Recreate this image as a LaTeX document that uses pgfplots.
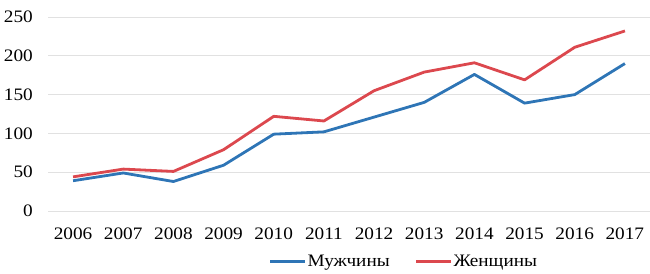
\documentclass[border=0pt]{standalone}
\usepackage{fontspec}
\setmainfont{Liberation Serif}[FakeStretch=1.1]
\usepackage{pgfplots}
\pgfplotsset{compat=1.18}
\definecolor{mblue}{RGB}{46,117,182}
\definecolor{wred}{RGB}{220,72,78}
\definecolor{gridc}{RGB}{225,225,225}
\begin{document}
\begin{tikzpicture}
\begin{axis}[
  scale only axis,
  width=602bp, height=194bp,
  xmin=2005.5, xmax=2017.5,
  ymin=0, ymax=250,
  xtick={2006,...,2017},
  ytick={0,50,...,250},
  axis line style={draw=none},
  major tick length=0pt,
  ymajorgrids,
  grid style={gridc, line width=0.9bp},
  font=\fontsize{17.5bp}{20bp}\selectfont,
  /pgf/number format/assume math mode=true,
  xticklabel={\pgfmathprintnumber[1000 sep={}]{\tick}},
  xticklabel style={anchor=north, inner sep=0pt, yshift=-17bp},
  yticklabel style={anchor=east, inner sep=0pt, xshift=-15bp},
  legend columns=2,
  legend style={draw=none, fill=none, at={(0.5905,-0.26)}, anchor=center,
    font=\fontsize{17.5bp}{20bp}\selectfont,
    nodes={inner xsep=1bp},
    /tikz/every even column/.append style={column sep=24bp}},
  legend image code/.code={\draw[#1, line width=2.8bp] (0bp,0bp) -- (35bp,0bp);},
]
\addplot[mblue, line width=2.8bp, line join=round] coordinates {
(2006,39) (2007,49) (2008,38) (2009,59) (2010,99) (2011,102)
(2012,121) (2013,140) (2014,176) (2015,139) (2016,150) (2017,190)};
\addlegendentry{Мужчины}
\addplot[wred, line width=2.8bp, line join=round] coordinates {
(2006,44) (2007,54) (2008,51) (2009,79) (2010,122) (2011,116)
(2012,155) (2013,179) (2014,191) (2015,169) (2016,211) (2017,232)};
\addlegendentry{Женщины}
\end{axis}
\path (current axis.south west) ++(-48bp,-63bp) coordinate (A);
\path (current axis.north east) ++(0bp,17bp) coordinate (B);
\pgfresetboundingbox
\useasboundingbox (A) rectangle (B);
\end{tikzpicture}
\end{document}
